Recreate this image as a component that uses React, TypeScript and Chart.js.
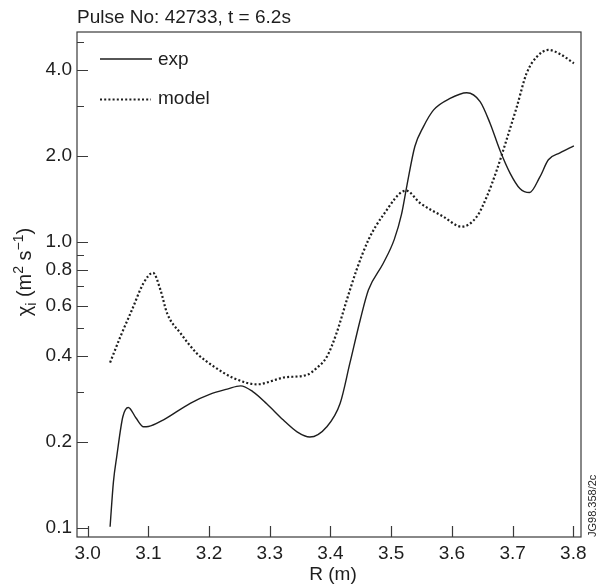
import React, { useEffect, useRef } from "react";
import { Chart, registerables } from "chart.js";

Chart.register(...registerables);

// ---- data ----
const titleText = "Pulse No: 42733, t = 6.2s";
const xAxisTitle = "R (m)";
const watermark = "JG98.358/2c";
const seriesLabels = ["exp", "model"];

const expR = [3.037, 3.0425, 3.048, 3.058, 3.067, 3.0797, 3.092, 3.1, 3.125, 3.169, 3.202, 3.23, 3.252, 3.272, 3.295, 3.322, 3.345, 3.366, 3.394, 3.416, 3.432, 3.449, 3.4625, 3.487, 3.505, 3.517, 3.526, 3.539, 3.553, 3.57, 3.597, 3.6245, 3.6465, 3.663, 3.679, 3.696, 3.712, 3.728, 3.745, 3.759, 3.778, 3.801];
const expChi = [0.101, 0.145, 0.178, 0.245, 0.264, 0.2425, 0.226, 0.2265, 0.239, 0.273, 0.294, 0.306, 0.314, 0.3, 0.272, 0.239, 0.217, 0.208, 0.226, 0.273, 0.377, 0.534, 0.68, 0.843, 1.02, 1.25, 1.58, 2.16, 2.53, 2.9, 3.18, 3.33, 3.1, 2.6, 2.1, 1.74, 1.54, 1.49, 1.69, 1.94, 2.05, 2.17];

const modelR = [3.037, 3.054, 3.073, 3.092, 3.1077, 3.12, 3.131, 3.153, 3.18, 3.208, 3.241, 3.279, 3.312, 3.3224, 3.361, 3.377, 3.394, 3.41, 3.427, 3.443, 3.4625, 3.487, 3.5246, 3.5476, 3.586, 3.616, 3.641, 3.6575, 3.674, 3.69, 3.707, 3.723, 3.74, 3.759, 3.778, 3.801];
const modelChi = [0.379, 0.467, 0.579, 0.718, 0.781, 0.68, 0.563, 0.48, 0.408, 0.367, 0.334, 0.318, 0.331, 0.336, 0.343, 0.362, 0.397, 0.48, 0.628, 0.799, 1.017, 1.244, 1.513, 1.37, 1.227, 1.132, 1.227, 1.441, 1.787, 2.277, 2.976, 3.89, 4.45, 4.7, 4.55, 4.22];

const xTicks = [3.0, 3.1, 3.2, 3.3, 3.4, 3.5, 3.6, 3.7, 3.8];
const xTickLabels = ["3.0", "3.1", "3.2", "3.3", "3.4", "3.5", "3.6", "3.7", "3.8"];
const yMajorTicks = [0.1, 0.2, 0.4, 0.6, 0.8, 1.0, 2.0, 4.0];
const yTickLabels = ["0.1", "0.2", "0.4", "0.6", "0.8", "1.0", "2.0", "4.0"];
const yMinorTicks = [0.3, 0.5, 0.7, 0.9, 3.0, 5.0];

const FONT = "'Liberation Sans', Arial, Helvetica, sans-serif";
const INK = "#1e1e1e";
const AXIS = "#3a3a3a";

const overlay = {
  id: "overlay",
  afterDraw(chart: any) {
    const ctx = chart.ctx as CanvasRenderingContext2D;
    const { left, right, top, bottom } = chart.chartArea;
    const xs = chart.scales.x;
    const ys = chart.scales.y;
    ctx.save();
    // frame
    ctx.strokeStyle = AXIS;
    ctx.lineWidth = 1.2;
    ctx.strokeRect(left, top, right - left, bottom - top);
    // inward ticks
    ctx.beginPath();
    xTicks.forEach((v) => {
      const px = Math.round(xs.getPixelForValue(v)) + 0.5;
      ctx.moveTo(px, bottom);
      ctx.lineTo(px, bottom - 11);
    });
    yMajorTicks.forEach((v) => {
      const py = Math.round(ys.getPixelForValue(v)) + 0.5;
      ctx.moveTo(left, py);
      ctx.lineTo(left + 11, py);
    });
    yMinorTicks.forEach((v) => {
      const py = Math.round(ys.getPixelForValue(v)) + 0.5;
      ctx.moveTo(left, py);
      ctx.lineTo(left + 7, py);
    });
    ctx.stroke();

    // legend
    ctx.fillStyle = INK;
    ctx.font = `19px ${FONT}`;
    ctx.textAlign = "left";
    ctx.textBaseline = "alphabetic";
    ctx.strokeStyle = INK;
    ctx.lineWidth = 1.4;
    ctx.setLineDash([]);
    ctx.beginPath();
    ctx.moveTo(100, 59);
    ctx.lineTo(152, 59);
    ctx.stroke();
    ctx.fillText(seriesLabels[0], 158, 65);
    ctx.lineWidth = 2.2;
    ctx.setLineDash([2, 2.2]);
    ctx.beginPath();
    ctx.moveTo(100, 99.5);
    ctx.lineTo(151, 99.5);
    ctx.stroke();
    ctx.setLineDash([]);
    ctx.fillText(seriesLabels[1], 158, 104);

    // title
    ctx.fillText(titleText, 77, 23);

    // x axis title
    ctx.textAlign = "center";
    ctx.fillText(xAxisTitle, 333, 580);

    // y axis title: χi (m² s⁻¹)
    const parts: [string, number, number][] = [
      ["χ", 20, 0],
      ["i", 14, 5],
      [" (m", 20, 0],
      ["2", 14, -8],
      [" s", 20, 0],
      ["−1", 14, -8],
      [")", 20, 0],
    ];
    let total = 0;
    parts.forEach(([t, s]) => {
      ctx.font = `${s}px ${FONT}`;
      total += ctx.measureText(t).width;
    });
    ctx.translate(31, 272 + total / 2);
    ctx.rotate(-Math.PI / 2);
    ctx.textAlign = "left";
    let cx = 0;
    parts.forEach(([t, s, dy]) => {
      ctx.font = `${s}px ${FONT}`;
      ctx.fillText(t, cx, dy);
      cx += ctx.measureText(t).width;
    });
    ctx.setTransform(1, 0, 0, 1, 0, 0);

    // watermark
    ctx.font = `11px ${FONT}`;
    ctx.translate(596, 537);
    ctx.rotate(-Math.PI / 2);
    ctx.textAlign = "left";
    ctx.fillText(watermark, 0, 0);
    ctx.restore();
  },
};

export default function App() {
  const ref = useRef<HTMLCanvasElement | null>(null);
  useEffect(() => {
    if (!ref.current) return;
    const chart = new Chart(ref.current, {
      type: "line",
      data: {
        datasets: [
          {
            label: seriesLabels[0],
            data: expR.map((r, i) => ({ x: r, y: expChi[i] })),
            borderColor: INK,
            borderWidth: 1.4,
            pointRadius: 0,
            cubicInterpolationMode: "monotone",
            fill: false,
          },
          {
            label: seriesLabels[1],
            data: modelR.map((r, i) => ({ x: r, y: modelChi[i] })),
            borderColor: INK,
            borderWidth: 2.2,
            borderDash: [2, 2.2],
            pointRadius: 0,
            cubicInterpolationMode: "monotone",
            fill: false,
          },
        ],
      },
      options: {
        animation: false,
        responsive: false,
        devicePixelRatio: 1,
        layout: { padding: { left: 0, top: 32, right: 16, bottom: 0 } },
        plugins: { legend: { display: false }, tooltip: { enabled: false }, title: { display: false } },
        scales: {
          x: {
            type: "linear",
            min: 2.9825,
            max: 3.8127,
            grid: { display: false, drawTicks: false },
            border: { display: false },
            afterBuildTicks: (s: any) => {
              s.ticks = xTicks.map((v) => ({ value: v }));
            },
            afterFit: (s: any) => {
              s.height = 48;
            },
            ticks: {
              autoSkip: false,
              maxRotation: 0,
              padding: 5,
              color: INK,
              font: { family: FONT, size: 19 },
              callback: (v: any) => {
                const i = xTicks.findIndex((t) => Math.abs(t - Number(v)) < 1e-6);
                return i >= 0 ? xTickLabels[i] : "";
              },
            },
          },
          y: {
            type: "logarithmic",
            min: 0.093,
            max: 5.43,
            grid: { display: false, drawTicks: false },
            border: { display: false },
            afterBuildTicks: (s: any) => {
              s.ticks = yMajorTicks.map((v) => ({ value: v }));
            },
            afterFit: (s: any) => {
              s.width = 77;
            },
            ticks: {
              autoSkip: false,
              padding: 5,
              color: INK,
              font: { family: FONT, size: 19 },
              callback: (v: any) => {
                const i = yMajorTicks.findIndex((t) => Math.abs(t - Number(v)) < 1e-6);
                return i >= 0 ? yTickLabels[i] : "";
              },
            },
          },
        },
      },
      plugins: [overlay],
    } as any);
    return () => chart.destroy();
  }, []);
  return (
    <div style={{ position: "absolute", left: 0, top: 0, width: 597, height: 585, background: "#fff" }}>
      <canvas ref={ref} width={597} height={585} style={{ width: 597, height: 585, display: "block" }} />
    </div>
  );
}
